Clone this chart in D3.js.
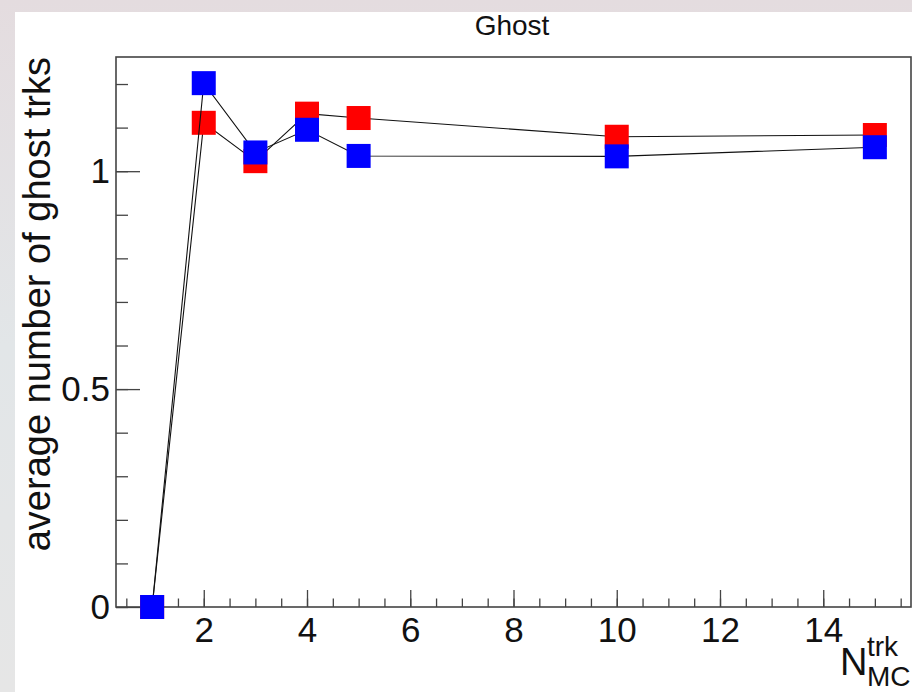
<!DOCTYPE html>
<html>
<head>
<meta charset="utf-8">
<script src="https://cdn.jsdelivr.net/npm/d3@7"></script>
<style>
  body { margin: 0; background: #e6e6ea; }
  svg { display: block; }
  text { font-family: 'Liberation Sans', Arial, sans-serif; fill: #111; }
</style>
</head>
<body>
<script>
// Data.
const nTrk = [1, 2, 3, 4, 5, 10, 15];
const ghostRed = [0, 1.111, 1.023, 1.132, 1.122, 1.079, 1.083];
const ghostBlue = [0, 1.202, 1.043, 1.095, 1.035, 1.034, 1.055];

// Axis ranges and tick labels.
const xRange = [0.3, 15.7];
const yRange = [0, 1.262];
const xMajor = [2, 4, 6, 8, 10, 12, 14];
const yMajor = [0, 0.5, 1];
const yLabels = ['0', '0.5', '1'];

// Svg constants.
const W = 912, H = 692;
const frame = { left: 116, top: 57, right: 911, bottom: 607 };

const svg = d3.select('body')
    .append('svg')
    .attr('width', W)
    .attr('height', H);

// Faded backdrop strips round the canvas.
const grad = svg.append('defs').append('linearGradient')
    .attr('id', 'strip')
    .attr('x1', 0).attr('x2', 0).attr('y1', 0).attr('y2', 1);
grad.append('stop').attr('offset', '0%').attr('stop-color', '#e4dcdf');
grad.append('stop').attr('offset', '50%').attr('stop-color', '#e2e6e8');
grad.append('stop').attr('offset', '100%').attr('stop-color', '#e6e6e6');
svg.append('rect')
    .attr('width', W).attr('height', H)
    .attr('fill', 'url(#strip)');
svg.append('rect')
    .attr('x', 15).attr('y', 12)
    .attr('width', W - 15).attr('height', H - 12)
    .attr('fill', '#fff');

// Scales.
const x = d3.scaleLinear().domain(xRange).range([frame.left, frame.right]);
const y = d3.scaleLinear().domain(yRange).range([frame.bottom, frame.top]);

const axisCol = '#444';

// Minor ticks first.
svg.append('g')
    .attr('transform', `translate(0,${frame.bottom})`)
    .call(d3.axisBottom(x).tickValues(d3.range(0.5, 15.6, 0.5)).tickSize(-8.5).tickFormat(''))
    .call(g => g.select('.domain').remove());
svg.append('g')
    .attr('transform', `translate(${frame.left},0)`)
    .call(d3.axisLeft(y).tickValues(d3.range(0, 1.25, 0.1)).tickSize(-12).tickFormat(''))
    .call(g => g.select('.domain').remove());

// Major ticks with labels.
svg.append('g')
    .attr('class', 'xaxis')
    .attr('transform', `translate(0,${frame.bottom})`)
    .call(d3.axisBottom(x).tickValues(xMajor).tickSize(-17).tickPadding(10).tickFormat(d3.format('d')))
    .call(g => g.select('.domain').remove());
svg.append('g')
    .attr('class', 'yaxis')
    .attr('transform', `translate(${frame.left},0)`)
    .call(d3.axisLeft(y).tickValues(yMajor).tickSize(-24).tickPadding(6).tickFormat((d, i) => yLabels[i]))
    .call(g => g.select('.domain').remove());

svg.selectAll('.tick line')
    .attr('stroke', axisCol)
    .attr('stroke-width', 1.3);
svg.selectAll('.tick text')
    .attr('font-family', "'Liberation Sans', Arial, sans-serif")
    .attr('font-size', 35)
    .attr('fill', '#111');

// Frame.
svg.append('rect')
    .attr('x', frame.left).attr('y', frame.top)
    .attr('width', frame.right - frame.left)
    .attr('height', frame.bottom - frame.top)
    .attr('fill', 'none')
    .attr('stroke', axisCol)
    .attr('stroke-width', 1.6);

// Series: line then markers, red first so blue sits on top.
const line = d3.line()
    .x((d, i) => x(nTrk[i]))
    .y(d => y(d));
const mk = 24;

[[ghostRed, '#ff0000'], [ghostBlue, '#0000ff']].forEach(([vals, col]) => {
    svg.append('path')
        .datum(vals)
        .attr('d', line)
        .attr('fill', 'none')
        .attr('stroke', '#111')
        .attr('stroke-width', 1.1);
    svg.selectAll(null)
        .data(vals)
        .join('rect')
            .attr('x', (d, i) => x(nTrk[i]) - mk / 2)
            .attr('y', d => y(d) - mk / 2)
            .attr('width', mk)
            .attr('height', mk)
            .attr('fill', col);
});

// Title.
svg.append('text')
    .attr('x', 512)
    .attr('y', 35)
    .attr('text-anchor', 'middle')
    .attr('font-size', 28)
    .text('Ghost');

// Y title, right-aligned to the top of the axis.
svg.append('text')
    .attr('transform', `translate(50,${frame.top}) rotate(-90)`)
    .attr('text-anchor', 'end')
    .attr('font-size', 38)
    .text('average number of ghost trks');

// X title N_MC^trk, right-aligned to the end of the axis.
const xt = svg.append('g');
xt.append('text')
    .attr('x', 840).attr('y', 675)
    .attr('font-size', 38)
    .text('N');
xt.append('text')
    .attr('x', 867).attr('y', 656)
    .attr('font-size', 28)
    .text('trk');
xt.append('text')
    .attr('x', 867).attr('y', 686)
    .attr('font-size', 28)
    .text('MC');
</script>
</body>
</html>
